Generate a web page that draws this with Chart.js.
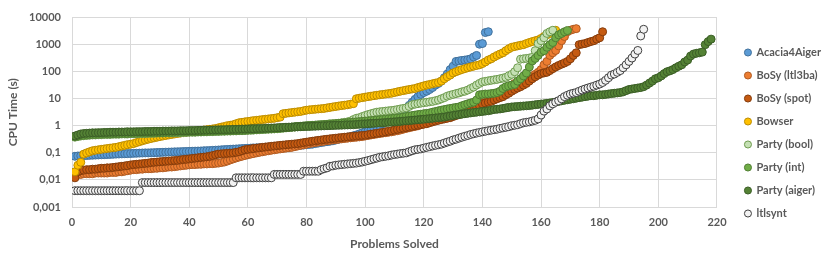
<!DOCTYPE html>
<html>
<head>
<meta charset="utf-8">
<script src="https://cdn.jsdelivr.net/npm/chart.js@4.4.1/dist/chart.umd.min.js"></script>
<style>
  html, body { margin: 0; padding: 0; background: #fff; }
</style>
</head>
<body>
<canvas id="c" width="830" height="260"></canvas>
<script>
'use strict';

// CPU time (s) of each solved problem, sorted; x = number of problems solved
const acacia = [
  0.075, 0.077, 0.078, 0.079, 0.08, 0.081, 0.082, 0.083, 0.084, 0.085,
  0.086, 0.087, 0.088, 0.089, 0.09, 0.091, 0.092, 0.093, 0.094, 0.095,
  0.096, 0.097, 0.098, 0.099, 0.1, 0.1, 0.101, 0.102, 0.103, 0.104,
  0.105, 0.106, 0.107, 0.108, 0.109, 0.11, 0.111, 0.112, 0.113, 0.114,
  0.115, 0.116, 0.117, 0.118, 0.12, 0.121, 0.122, 0.124, 0.126, 0.128,
  0.13, 0.132, 0.134, 0.136, 0.138, 0.14, 0.142, 0.144, 0.146, 0.148,
  0.15, 0.152, 0.154, 0.156, 0.158, 0.16, 0.162, 0.164, 0.166, 0.168,
  0.17, 0.172, 0.175, 0.178, 0.181, 0.184, 0.187, 0.19, 0.195, 0.2,
  0.205, 0.21, 0.22, 0.23, 0.24, 0.25, 0.26, 0.27, 0.28, 0.3,
  0.32, 0.34, 0.36, 0.38, 0.4, 0.43, 0.46, 0.5, 0.55, 0.6,
  0.65, 0.7, 0.8, 0.9, 1.0, 1.2, 1.4, 1.6, 1.9, 2.2,
  2.6, 3.0, 3.5, 4.5, 5.7, 7.4, 9.5, 12, 14.5, 17,
  19, 22, 26, 32, 37, 45, 60, 82, 120, 160,
  240, 250, 260, 270, 280, 300, 350, 400, 1040, 1100,
  2800, 3000
];
const bosyLtl3ba = [
  0.015, 0.016, 0.016, 0.017, 0.017, 0.017, 0.017, 0.018, 0.018, 0.018,
  0.018, 0.018, 0.019, 0.019, 0.019, 0.02, 0.02, 0.021, 0.022, 0.023,
  0.024, 0.024, 0.025, 0.025, 0.026, 0.026, 0.026, 0.027, 0.027, 0.028,
  0.028, 0.029, 0.03, 0.03, 0.031, 0.032, 0.033, 0.034, 0.035, 0.036,
  0.037, 0.037, 0.038, 0.038, 0.039, 0.039, 0.04, 0.04, 0.041, 0.042,
  0.044, 0.046, 0.05, 0.055, 0.06, 0.065, 0.07, 0.075, 0.08, 0.085,
  0.09, 0.095, 0.1, 0.105, 0.11, 0.115, 0.12, 0.125, 0.13, 0.135,
  0.14, 0.145, 0.15, 0.155, 0.16, 0.17, 0.18, 0.19, 0.2, 0.21,
  0.22, 0.23, 0.24, 0.25, 0.26, 0.27, 0.28, 0.29, 0.3, 0.31,
  0.32, 0.33, 0.34, 0.35, 0.36, 0.37, 0.38, 0.39, 0.4, 0.42,
  0.44, 0.46, 0.48, 0.5, 0.52, 0.54, 0.56, 0.58, 0.6, 0.63,
  0.66, 0.7, 0.75, 0.8, 0.85, 0.9, 0.95, 1.0, 1.1, 1.2,
  1.3, 1.4, 1.5, 1.6, 1.7, 1.8, 1.9, 2.0, 2.2, 2.4,
  2.6, 2.8, 3.0, 3.3, 3.6, 4.0, 4.5, 5.0, 6.0, 7.0,
  9, 11, 12, 13, 14, 15, 17, 20, 25, 32,
  37, 40, 45, 50, 55, 60, 70, 80, 95, 120,
  180, 240, 400, 500, 610, 900, 1400, 2000, 3000, 3400,
  3700, 3900
];
const bosySpot = [
  0.012, 0.02, 0.022, 0.023, 0.024, 0.024, 0.025, 0.025, 0.026, 0.027,
  0.027, 0.028, 0.028, 0.029, 0.03, 0.031, 0.032, 0.033, 0.034, 0.036,
  0.037, 0.038, 0.039, 0.04, 0.041, 0.042, 0.044, 0.045, 0.046, 0.047,
  0.048, 0.049, 0.05, 0.051, 0.052, 0.053, 0.055, 0.057, 0.058, 0.06,
  0.062, 0.064, 0.066, 0.068, 0.07, 0.072, 0.075, 0.08, 0.085, 0.09,
  0.092, 0.094, 0.096, 0.098, 0.1, 0.105, 0.11, 0.12, 0.13, 0.135,
  0.14, 0.145, 0.15, 0.155, 0.16, 0.165, 0.17, 0.175, 0.18, 0.185,
  0.19, 0.195, 0.2, 0.205, 0.21, 0.215, 0.22, 0.23, 0.24, 0.25,
  0.26, 0.27, 0.28, 0.29, 0.3, 0.31, 0.32, 0.33, 0.34, 0.35,
  0.36, 0.37, 0.38, 0.39, 0.4, 0.41, 0.42, 0.43, 0.44, 0.45,
  0.47, 0.49, 0.51, 0.53, 0.55, 0.57, 0.6, 0.63, 0.66, 0.7,
  0.74, 0.78, 0.82, 0.86, 0.9, 0.95, 1.0, 1.05, 1.1, 1.15,
  1.2, 1.3, 1.4, 1.5, 1.6, 1.7, 1.8, 1.9, 2.0, 2.2,
  2.4, 2.6, 2.8, 3.0, 3.2, 3.5, 3.8, 4.4, 5.5, 6.5,
  7, 7.5, 8, 9, 10, 11, 12, 14, 16, 19,
  22, 25, 28, 32, 37, 45, 55, 65, 75, 85,
  90, 95, 110, 130, 150, 170, 190, 210, 240, 300,
  400, 500, 1000, 1050, 1100, 1200, 1300, 1400, 1600, 1800,
  3000
];
const bowser = [
  0.02, 0.035, 0.045, 0.09, 0.1, 0.11, 0.12, 0.125, 0.13, 0.135,
  0.14, 0.145, 0.15, 0.155, 0.16, 0.17, 0.18, 0.19, 0.2, 0.21,
  0.22, 0.24, 0.26, 0.28, 0.3, 0.32, 0.34, 0.36, 0.38, 0.4,
  0.42, 0.44, 0.46, 0.48, 0.5, 0.52, 0.54, 0.56, 0.58, 0.6,
  0.62, 0.64, 0.66, 0.68, 0.7, 0.72, 0.74, 0.77, 0.8, 0.85,
  0.9, 0.95, 1.0, 1.05, 1.1, 1.2, 1.3, 1.35, 1.4, 1.45,
  1.5, 1.55, 1.6, 1.65, 1.7, 1.75, 1.8, 1.85, 1.9, 2.0,
  2.1, 2.8, 2.9, 3.0, 3.1, 3.2, 3.3, 3.4, 3.6, 3.8,
  3.9, 4.0, 4.1, 4.2, 4.3, 4.4, 4.6, 4.8, 5.0, 5.2,
  5.4, 5.6, 5.8, 6.0, 6.3, 6.6, 10, 10.5, 11, 11.5,
  12, 12.5, 13, 13.5, 14, 14.5, 15, 15.5, 16, 17,
  18, 19, 20, 21, 22, 23, 24, 26, 28, 30,
  32, 34, 36, 38, 40, 45, 55, 65, 75, 90,
  100, 110, 120, 130, 140, 150, 160, 170, 180, 200,
  230, 270, 300, 350, 400, 450, 500, 600, 700, 800,
  850, 900, 950, 1000, 1100, 1200, 1300, 1400, 1500, 1700,
  2000, 2300, 2600, 3000, 3400
];
const partyBool = [
  0.38, 0.4, 0.42, 0.43, 0.44, 0.45, 0.46, 0.46, 0.47, 0.47,
  0.48, 0.48, 0.48, 0.49, 0.49, 0.49, 0.5, 0.5, 0.5, 0.51,
  0.51, 0.51, 0.52, 0.52, 0.52, 0.53, 0.53, 0.53, 0.54, 0.54,
  0.54, 0.55, 0.55, 0.55, 0.56, 0.56, 0.56, 0.57, 0.57, 0.58,
  0.58, 0.58, 0.59, 0.59, 0.6, 0.6, 0.61, 0.61, 0.62, 0.62,
  0.63, 0.63, 0.64, 0.64, 0.65, 0.65, 0.66, 0.66, 0.67, 0.68,
  0.69, 0.7, 0.71, 0.72, 0.73, 0.74, 0.75, 0.76, 0.77, 0.78,
  0.8, 0.82, 0.84, 0.86, 0.88, 0.9, 0.92, 0.94, 0.96, 0.98,
  1.0, 1.02, 1.04, 1.06, 1.08, 1.1, 1.13, 1.16, 1.19, 1.22,
  1.25, 1.3, 1.35, 1.4, 1.5, 1.7, 1.9, 2.0, 2.2, 2.4,
  2.6, 2.8, 3.0, 3.2, 3.3, 3.4, 3.5, 3.6, 3.7, 3.8,
  4.0, 4.2, 4.4, 4.6, 5.2, 6.0, 6.3, 6.6, 6.9, 7.2,
  7.4, 7.7, 8.0, 8.5, 9.0, 10, 11, 12.5, 13.5, 14.5,
  15.5, 16.5, 18, 19, 21, 24, 27, 32, 37, 42,
  44, 46, 48, 50, 52, 55, 58, 62, 70, 80,
  100, 140, 290, 300, 310, 320, 340, 600, 1100, 1400,
  1800, 2600, 3000, 3400
];
const partyInt = [
  0.4, 0.42, 0.44, 0.45, 0.46, 0.47, 0.48, 0.48, 0.49, 0.49,
  0.5, 0.5, 0.5, 0.51, 0.51, 0.51, 0.52, 0.52, 0.52, 0.53,
  0.53, 0.53, 0.54, 0.54, 0.54, 0.55, 0.55, 0.55, 0.56, 0.56,
  0.56, 0.57, 0.57, 0.57, 0.58, 0.58, 0.58, 0.59, 0.59, 0.6,
  0.6, 0.6, 0.61, 0.61, 0.62, 0.62, 0.63, 0.63, 0.64, 0.64,
  0.65, 0.65, 0.66, 0.66, 0.67, 0.67, 0.68, 0.68, 0.69, 0.7,
  0.71, 0.72, 0.73, 0.74, 0.75, 0.76, 0.77, 0.78, 0.79, 0.8,
  0.82, 0.84, 0.86, 0.88, 0.9, 0.92, 0.94, 0.96, 0.98, 1.0,
  1.02, 1.04, 1.06, 1.08, 1.1, 1.12, 1.14, 1.16, 1.18, 1.2,
  1.22, 1.25, 1.28, 1.31, 1.34, 1.37, 1.4, 1.43, 1.46, 1.5,
  1.53, 1.56, 1.6, 1.64, 1.68, 1.72, 1.76, 1.8, 1.85, 1.9,
  1.95, 2.0, 2.1, 2.2, 2.3, 2.4, 2.5, 2.6, 2.7, 2.8,
  2.9, 3.0, 3.2, 3.4, 3.6, 3.8, 4.0, 4.2, 4.4, 4.6,
  4.8, 5.0, 5.5, 6.0, 6.5, 7.0, 7.5, 9, 14, 14.5,
  15, 15, 15.5, 16, 17, 19, 24, 28, 30, 32,
  34, 45, 55, 70, 90, 150, 250, 310, 400, 530,
  600, 800, 1000, 1200, 1800, 2300, 2600, 3000, 3300
];
const partyAiger = [
  0.42, 0.46, 0.5, 0.52, 0.53, 0.54, 0.55, 0.55, 0.56, 0.56,
  0.57, 0.57, 0.58, 0.58, 0.58, 0.59, 0.59, 0.59, 0.6, 0.6,
  0.6, 0.61, 0.61, 0.61, 0.62, 0.62, 0.62, 0.63, 0.63, 0.63,
  0.64, 0.64, 0.64, 0.65, 0.65, 0.65, 0.66, 0.66, 0.66, 0.67,
  0.67, 0.67, 0.68, 0.68, 0.69, 0.69, 0.7, 0.7, 0.71, 0.71,
  0.72, 0.72, 0.73, 0.73, 0.74, 0.74, 0.75, 0.76, 0.76, 0.77,
  0.78, 0.78, 0.79, 0.8, 0.8, 0.81, 0.82, 0.83, 0.84, 0.85,
  0.86, 0.87, 0.88, 0.89, 0.9, 0.91, 0.92, 0.93, 0.94, 0.95,
  0.95, 0.96, 0.97, 0.98, 0.99, 1.0, 1.01, 1.02, 1.03, 1.04,
  1.05, 1.06, 1.07, 1.08, 1.09, 1.1, 1.12, 1.14, 1.16, 1.18,
  1.2, 1.22, 1.24, 1.26, 1.28, 1.3, 1.32, 1.35, 1.38, 1.4,
  1.43, 1.46, 1.5, 1.53, 1.56, 1.6, 1.64, 1.68, 1.72, 1.76,
  1.8, 1.85, 1.9, 1.95, 2.0, 2.05, 2.1, 2.2, 2.3, 2.4,
  2.5, 2.6, 2.7, 2.8, 2.9, 3.0, 3.1, 3.2, 3.3, 3.4,
  3.5, 3.6, 3.8, 4.0, 4.1, 4.2, 4.4, 4.6, 4.8, 5.0,
  5.1, 5.2, 5.3, 5.4, 5.5, 5.6, 5.8, 6.0, 6.2, 6.4,
  6.5, 6.8, 7.0, 7.3, 7.6, 8.0, 8.4, 8.8, 9.2, 9.6,
  10, 10.5, 11, 11.5, 12, 12.5, 13, 13, 13.5, 14,
  14, 14.5, 15, 15.5, 16, 16.5, 17, 18, 20, 22,
  23, 24, 25, 26, 28, 32, 38, 45, 55, 60,
  70, 85, 100, 108, 120, 140, 160, 180, 230, 270,
  380, 450, 480, 500, 530, 1000, 1300, 1600
];
const ltlsynt = [
  0.004, 0.004, 0.004, 0.004, 0.004, 0.004, 0.004, 0.004, 0.004, 0.004,
  0.004, 0.004, 0.004, 0.004, 0.004, 0.004, 0.004, 0.004, 0.004, 0.004,
  0.004, 0.004, 0.004,
  0.008, 0.008, 0.008, 0.008, 0.008, 0.008, 0.008, 0.008, 0.008, 0.008,
  0.008, 0.008, 0.008, 0.008, 0.008, 0.008, 0.008, 0.008, 0.008, 0.008,
  0.008, 0.008, 0.008, 0.008, 0.008, 0.008, 0.008, 0.008, 0.008, 0.008,
  0.008, 0.008,
  0.012, 0.012, 0.012, 0.012, 0.012, 0.012, 0.012, 0.012, 0.012, 0.012,
  0.012, 0.012, 0.012,
  0.016, 0.016, 0.016, 0.016, 0.016, 0.016, 0.016, 0.016, 0.016, 0.016,
  0.021, 0.021, 0.021, 0.021, 0.021, 0.021,
  0.024, 0.026, 0.028, 0.032, 0.033, 0.035,
  0.036, 0.037, 0.038, 0.039, 0.04, 0.041, 0.042, 0.044, 0.046, 0.049,
  0.052, 0.056, 0.06, 0.064, 0.069, 0.072, 0.075, 0.078, 0.083, 0.087,
  0.09, 0.094, 0.097, 0.1, 0.11, 0.12, 0.13, 0.135, 0.14, 0.15,
  0.16, 0.17, 0.18, 0.19, 0.2, 0.21, 0.23, 0.25, 0.27, 0.3,
  0.32, 0.35, 0.38, 0.41, 0.44, 0.48, 0.51, 0.54, 0.57, 0.6,
  0.63, 0.66, 0.69, 0.72, 0.75, 0.8, 0.84, 0.88, 0.93, 1.0,
  1.05, 1.1, 1.2, 1.3, 1.35, 1.4, 1.5, 1.6, 1.8, 2.5,
  3.5, 4.2, 5.5, 6.5, 7.5, 8.5, 10, 12, 13.5, 15,
  16, 17, 19, 21, 23, 25, 27, 29, 32, 35,
  40, 48, 60, 75, 82, 95, 110, 140, 180, 240,
  320, 450, 610, 2100, 3700
];

const seriesNames = ['Acacia4Aiger', 'BoSy (ltl3ba)', 'BoSy (spot)', 'Bowser',
  'Party (bool)', 'Party (int)', 'Party (aiger)', 'ltlsynt'];
const seriesValues = [acacia, bosyLtl3ba, bosySpot, bowser, partyBool, partyInt, partyAiger, ltlsynt];
const fills   = ['#5B9BD5', '#ED7D31', '#C55A11', '#FFC000', '#C5E0B4', '#70AD47', '#548235', '#F2F2F2'];
const borders = ['#41719C', '#AE5A21', '#843C0C', '#BC8C00', '#6E9B4E', '#507E32', '#3B5E26', '#404040'];

const xMin = 0, xMax = 220, xStep = 20;
const yTicks = [0.001, 0.01, 0.1, 1, 10, 100, 1000, 10000];
const yTickLabels = ['0,001', '0,01', '0,1', '1', '10', '100', '1000', '10000'];

const TEXT = '#595959';
const GRID = '#D9D9D9';
Chart.defaults.font.family = "Lato, 'Noto Sans', sans-serif";
Chart.defaults.color = TEXT;

const datasets = seriesNames.map((name, i) => ({
  label: name,
  data: seriesValues[i].map((v, k) => ({ x: k + 1, y: v })),
  backgroundColor: fills[i],
  borderColor: borders[i],
  borderWidth: 1,
  pointRadius: 4,
  pointHoverRadius: 4,
  order: seriesNames.length - i   // later series on top, like the original
}));

// push the legend a bit away from the plot
const legendGap = {
  id: 'legendGap',
  afterLayout(chart) {
    chart.legend.left += 16;
    chart.legend.right += 16;
  }
};

new Chart(document.getElementById('c'), {
  type: 'scatter',
  data: { datasets },
  plugins: [legendGap],
  options: {
    responsive: false,
    animation: false,
    devicePixelRatio: 1,
    layout: { padding: { left: 0, top: 6, right: 15, bottom: 0 } },
    plugins: {
      tooltip: { enabled: false },
      legend: {
        position: 'right',
        labels: {
          usePointStyle: true,
          pointStyle: 'circle',
          boxWidth: 6,
          boxHeight: 5,
          padding: 12,
          font: { size: 11, weight: 'bold' },
          color: TEXT,
          sort: (a, b) => a.datasetIndex - b.datasetIndex
        }
      }
    },
    scales: {
      x: {
        type: 'linear',
        min: xMin, max: xMax,
        ticks: { stepSize: xStep, padding: 9, font: { size: 11, weight: 'bold' } },
        grid: { color: GRID, drawTicks: false },
        border: { color: GRID },
        title: { display: true, text: 'Problems Solved', font: { size: 12, weight: 'bold' }, padding: { top: 0, bottom: 9 } },
        afterFit: s => { s.height = 53; }
      },
      y: {
        type: 'logarithmic',
        min: yTicks[0], max: yTicks[yTicks.length - 1],
        afterBuildTicks: s => { s.ticks = yTicks.map(v => ({ value: v })); },
        ticks: { padding: 11, font: { size: 11, weight: 'bold' }, callback: (v, i) => yTickLabels[i] },
        grid: { color: GRID, drawTicks: false },
        border: { color: GRID },
        title: { display: true, text: 'CPU Time (s)', font: { size: 12, weight: 'bold' }, padding: { top: 6, bottom: 0 } },
        afterFit: s => { s.width = 72; }
      }
    }
  }
});
</script>
</body>
</html>
